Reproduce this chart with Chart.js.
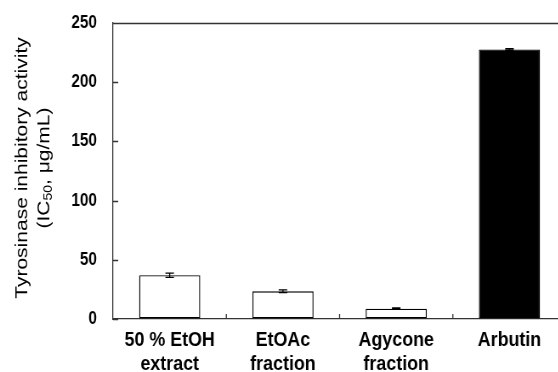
<!DOCTYPE html>
<html>
<head>
<meta charset="utf-8">
<script src="https://cdn.jsdelivr.net/npm/chart.js@4.4.0/dist/chart.umd.min.js"></script>
<style>
  body { margin: 0; background: #fff; }
  #wrap { width: 558px; height: 372px; overflow: hidden; position: relative; }
  /* the original figure is a bit squeezed sideways */
  #chart_1 { transform: scaleX(0.85); transform-origin: 0 0; }
</style>
</head>
<body>
<div id="wrap"><canvas id="chart_1" width="672" height="372"></canvas></div>
<script>
var categories = [['50 % EtOH', 'extract'], ['EtOAc', 'fraction'], ['Agycone', 'fraction'], ['Arbutin']];
var ic50 = [37.0, 23.4, 8.7, 227.7];
var ic50Err = [1.8, 1.2, 0.6, 0.7];
var barFill = ['#ffffff', '#ffffff', '#ffffff', '#000000'];
var yTicks = [0, 50, 100, 150, 200, 250];

var lineColor = '#333333';

// error bars, inward ticks, top frame line and the y title
var extrasPlugin = {
  id: 'extras',
  afterDatasetsDraw: function(chart) {
    var ctx = chart.ctx;
    var meta = chart.getDatasetMeta(0);
    var y = chart.scales.y;
    var x = chart.scales.x;
    var area = chart.chartArea;

    ctx.save();
    ctx.strokeStyle = '#000';
    ctx.lineWidth = 1.3;
    for (var i = 0; i < meta.data.length; i++) {
      var bx = meta.data[i].x;
      var yTop = y.getPixelForValue(ic50[i] + ic50Err[i]);
      var yBot = y.getPixelForValue(ic50[i] - ic50Err[i]);
      var cap = 5;
      ctx.beginPath();
      ctx.moveTo(bx, yTop); ctx.lineTo(bx, yBot);
      ctx.moveTo(bx - cap, yTop); ctx.lineTo(bx + cap, yTop);
      ctx.moveTo(bx - cap, yBot); ctx.lineTo(bx + cap, yBot);
      ctx.stroke();
    }

    // inward ticks on y
    ctx.strokeStyle = lineColor;
    ctx.lineWidth = 1.3;
    ctx.beginPath();
    for (var t = 0; t < yTicks.length; t++) {
      var py = Math.round(y.getPixelForValue(yTicks[t])) + 0.5;
      ctx.moveTo(area.left, py);
      ctx.lineTo(area.left + 6, py);
    }
    // small upward ticks between categories
    for (var c = 1; c < categories.length; c++) {
      var px = (x.getPixelForValue(c - 1) + x.getPixelForValue(c)) / 2;
      ctx.moveTo(px, area.bottom);
      ctx.lineTo(px, area.bottom - 5);
    }
    // top frame line
    ctx.moveTo(area.left, area.top + 0.5);
    ctx.lineTo(chart.width, area.top + 0.5);
    ctx.stroke();

    // y title, two lines, with subscript
    ctx.fillStyle = '#000';
    ctx.textAlign = 'left';
    ctx.textBaseline = 'middle';
    var cy = 168;
    ctx.translate(26, cy);
    ctx.rotate(-Math.PI / 2);
    var big = '21px "Liberation Sans", Arial, sans-serif';
    var small = '14px "Liberation Sans", Arial, sans-serif';
    ctx.font = big;
    var l1 = 'Tyrosinase inhibitory activity';
    ctx.fillText(l1, -ctx.measureText(l1).width / 2, 0);

    var p1 = '(IC', p2 = '50', p3 = ', \u03bcg/mL)';
    var w1 = ctx.measureText(p1).width, w3 = ctx.measureText(p3).width;
    ctx.font = small;
    var w2 = ctx.measureText(p2).width;
    var sx = -(w1 + w2 + w3) / 2;
    var ly = 26;
    ctx.font = big;
    ctx.fillText(p1, sx, ly);
    ctx.font = small;
    ctx.fillText(p2, sx + w1, ly + 5);
    ctx.font = big;
    ctx.fillText(p3, sx + w1 + w2, ly);
    ctx.restore();
  }
};

function drawChart_1() {
  var ctx_1 = document.getElementById('chart_1').getContext('2d');
  var chart_1 = new Chart(ctx_1, {
    type: 'bar',
    data: {
      labels: categories,
      datasets: [{
        label: 'IC50',
        data: ic50,
        backgroundColor: barFill,
        borderColor: '#000',
        borderWidth: 1.4,
        borderSkipped: false,
        categoryPercentage: 1.0,
        barPercentage: 0.54
      }]
    },
    options: {
      responsive: false,
      animation: false,
      devicePixelRatio: 1,
      layout: {
        padding: { left: 0, right: 6, top: 23, bottom: 0 }
      },
      plugins: {
        legend: { display: false },
        tooltip: { enabled: false }
      },
      scales: {
        x: {
          offset: true,
          grid: { display: true, drawOnChartArea: false, drawTicks: false },
          border: { display: true, color: lineColor, width: 1.3 },
          ticks: {
            color: '#000',
            padding: 9,
            maxRotation: 0,
            autoSkip: false,
            font: { family: '"Liberation Sans", Arial, sans-serif', size: 21, weight: 'bold', lineHeight: 1.15 }
          },
          afterFit: function(scale) { scale.height = 53; }
        },
        y: {
          min: 0,
          max: 250,
          afterBuildTicks: function(scale) {
            scale.ticks = yTicks.map(function(v) { return { value: v }; });
          },
          grid: { display: true, drawOnChartArea: false, drawTicks: false },
          border: { display: true, color: lineColor, width: 1.3 },
          ticks: {
            color: '#000',
            padding: 19,
            font: { family: '"Liberation Sans", Arial, sans-serif', size: 18, weight: 'bold' }
          },
          afterFit: function(scale) {
            scale.width = 133;
            scale.paddingTop = 0;
            scale.paddingBottom = 0;
          }
        }
      }
    },
    plugins: [extrasPlugin]
  });
}

drawChart_1();
</script>
</body>
</html>
